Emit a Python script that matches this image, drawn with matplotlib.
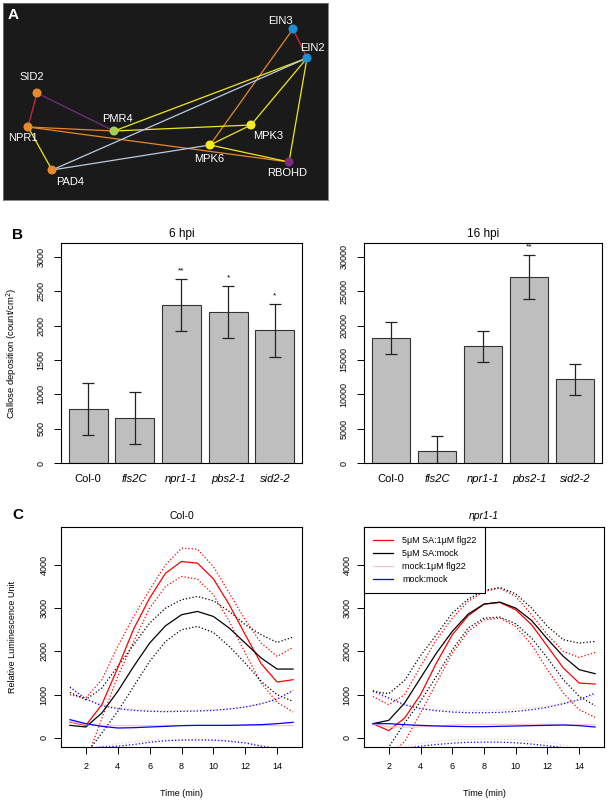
import numpy as np
import matplotlib
matplotlib.use('Agg')
from matplotlib import pyplot as plt

plt.rcParams.update({'font.family': ['Liberation Sans', 'DejaVu Sans'],
                     'font.size': 7, 'axes.linewidth': 0.8})

## Panel A: interaction network (layout in pixel units of the panel)
nodes = ['EIN3', 'EIN2', 'SID2', 'NPR1', 'PMR4', 'MPK3', 'MPK6', 'RBOHD', 'PAD4']
node_x = [293, 307, 37, 28, 114, 251, 210, 289, 52]
node_y = [29, 58, 93, 127, 131, 125, 145, 162, 170]
node_col = ['#1f8fd6', '#1f8fd6', '#e8892c', '#e8892c', '#a3cf62',
            '#f5eb17', '#f5eb17', '#7d2c80', '#e8892c']
lab_dx = [-13, 5, -5, -5, 3, 17, -1, -2, 18]
lab_dy = [-8, -10, -16, 11, -12, 11, 14, 11, 12]
edges = [('EIN3', 'EIN2', '#d8283c'), ('EIN3', 'MPK6', '#e8872b'),
         ('SID2', 'NPR1', '#d8283c'), ('SID2', 'PMR4', '#7b2d7e'),
         ('NPR1', 'PMR4', '#e8872b'), ('NPR1', 'RBOHD', '#e8872b'),
         ('NPR1', 'PAD4', '#f0e81a'), ('PMR4', 'EIN2', '#f0e81a'),
         ('PMR4', 'MPK3', '#f0e81a'), ('PAD4', 'EIN2', '#b8cde0'),
         ('PAD4', 'MPK6', '#b8cde0'), ('MPK6', 'MPK3', '#f0e81a'),
         ('MPK6', 'RBOHD', '#f0e81a'), ('MPK3', 'EIN2', '#f0e81a'),
         ('EIN2', 'RBOHD', '#f0e81a')]

## Panel B: callose deposition
genotypes = ['Col-0', 'fls2C', 'npr1-1', 'pbs2-1', 'sid2-2']
callose_6 = [790, 660, 2305, 2200, 1930]
err_6 = [380, 380, 378, 380, 382]
stars_6 = ['', '', '**', '*', '*']
callose_16 = [18150, 1750, 16960, 27050, 12150]
err_16 = [2320, 2200, 2250, 3170, 2225]
stars_16 = ['', '', '', '**', '']

## Panel C: ROS luminescence
time = np.arange(1, 16)
col_red = [369, 292, 769, 1620, 2520, 3230, 3807, 4077, 4038, 3677, 3077, 2385, 1715, 1292, 1346]
col_red_up = [1000, 923, 1346, 2115, 2807, 3422, 4000, 4384, 4361, 3961, 3346, 2730, 2192, 1884, 2092]
col_red_lo = [-400, -540, 450, 1423, 2230, 3000, 3500, 3730, 3669, 3307, 2692, 1961, 1269, 823, 600]
col_blk = [292, 254, 577, 1077, 1654, 2192, 2592, 2846, 2923, 2807, 2538, 2192, 1846, 1592, 1592]
col_blk_up = [1054, 885, 1154, 1654, 2154, 2654, 3000, 3192, 3269, 3169, 2923, 2615, 2384, 2207, 2330]
col_blk_lo = [-470, -380, 115, 615, 1192, 1769, 2230, 2500, 2577, 2438, 2115, 1730, 1307, 1000, 846]
col_pnk = [380, 310, 290, 285, 285, 285, 290, 290, 290, 290, 290, 290, 290, 285, 290]
col_pnk_up = [1150, 910, 770, 700, 660, 640, 630, 635, 640, 655, 680, 720, 790, 890, 1080]
col_pnk_lo = [-380, -290, -190, -130, -90, -60, -40, -30, -30, -40, -60, -100, -170, -260, -400]
col_blu = [423, 331, 269, 231, 238, 254, 269, 285, 292, 292, 292, 300, 308, 331, 361]
col_blu_up = [1177, 900, 746, 677, 638, 615, 608, 615, 623, 638, 669, 715, 792, 900, 1100]
col_blu_lo = [-330, -240, -210, -190, -150, -100, -65, -50, -45, -50, -75, -115, -190, -240, -380]

npr_red = [331, 169, 461, 1000, 1730, 2384, 2823, 3092, 3130, 2961, 2615, 2115, 1615, 1269, 1246]
npr_red_up = [961, 769, 1000, 1654, 2269, 2769, 3154, 3384, 3461, 3269, 2846, 2384, 2000, 1861, 1977]
npr_red_lo = [-300, -430, -80, 577, 1269, 1961, 2461, 2730, 2769, 2577, 2154, 1577, 1038, 654, 477]
npr_blk = [331, 408, 808, 1385, 1961, 2461, 2861, 3092, 3138, 3000, 2715, 2284, 1884, 1577, 1485]
npr_blk_up = [1077, 1023, 1330, 1900, 2384, 2884, 3207, 3407, 3477, 3330, 3000, 2577, 2269, 2192, 2230]
npr_blk_lo = [-420, -210, 346, 846, 1423, 2038, 2538, 2769, 2792, 2638, 2307, 1846, 1346, 961, 746]
npr_pnk = [331, 254, 250, 260, 280, 300, 310, 315, 315, 315, 315, 315, 310, 310, 308]
npr_pnk_up = [1050, 880, 760, 690, 660, 640, 635, 640, 650, 670, 700, 740, 800, 880, 1000]
npr_pnk_lo = [-380, -300, -200, -120, -80, -50, -35, -30, -30, -40, -60, -100, -160, -250, -380]
npr_blu = [331, 331, 308, 292, 277, 269, 262, 262, 269, 277, 285, 292, 300, 285, 254]
npr_blu_up = [1092, 923, 769, 677, 630, 600, 585, 585, 592, 615, 654, 708, 792, 885, 1038]
npr_blu_lo = [-450, -330, -240, -190, -150, -120, -100, -95, -95, -110, -140, -180, -220, -300, -450]

treatments = ['5\u03bcM SA:1\u03bcM flg22', '5\u03bcM SA:mock', 'mock:1\u03bcM flg22', 'mock:mock']
treat_col = ['#ff0000', '#000000', '#ffc0cb', '#0000ff']

W, H = 608, 800
fig = plt.figure(figsize=(W / 100, H / 100), dpi=100)

def box(x0, y0, x1, y1):
    # pixel box (top-left origin) -> figure fraction rect
    return [x0 / W, 1 - y1 / H, (x1 - x0) / W, (y1 - y0) / H]

## ---- A
axA = fig.add_axes(box(3, 3, 328, 200))
axA.set_facecolor('#1a1a1a')
axA.set_xlim(3, 328)
axA.set_ylim(200, 3)
axA.set_xticks([])
axA.set_yticks([])
for s in axA.spines.values():
    s.set_color('#777777')
    s.set_linewidth(0.6)
pos = {n: (x, y) for n, x, y in zip(nodes, node_x, node_y)}
for a, b, c in edges:
    axA.plot([pos[a][0], pos[b][0]], [pos[a][1], pos[b][1]], color=c, lw=0.9, zorder=1)
axA.scatter(node_x, node_y, s=42, c=node_col, zorder=2, linewidths=0)
for n, x, y, dx, dy in zip(nodes, node_x, node_y, lab_dx, lab_dy):
    axA.text(x + dx, y + dy, n, color='white', fontsize=8, ha='center', va='center', zorder=3)
axA.text(8, 15, 'A', color='white', fontsize=11, fontweight='bold', va='center')

## ---- B
def callose(ax, vals, errs, stars, ylim, yticks, title, ylabel=None):
    xs = 0.7 + 1.2 * np.arange(len(vals))
    ax.bar(xs, vals, width=1.0, color='#bebebe', edgecolor='#333333', linewidth=0.8)
    ax.errorbar(xs, vals, yerr=errs, fmt='none', ecolor='#222222', elinewidth=0.9,
                capsize=4.5, capthick=0.9)
    for x, v, e, s in zip(xs, vals, errs, stars):
        if s:
            ax.text(x, v + e + ylim[1] * 0.02, s, ha='center', va='bottom', fontsize=6)
    ax.set_xlim(0, 6.2)
    ax.set_ylim(*ylim)
    ax.set_yticks(yticks)
    ax.set_yticklabels([str(t) for t in yticks], rotation=90, va='center', fontsize=6.5)
    ax.set_xticks(xs)
    ax.set_xticklabels(genotypes, fontsize=8)
    for i, t in enumerate(ax.get_xticklabels()):
        if i > 0:
            t.set_style('italic')
    ax.tick_params(axis='x', length=0, pad=8)
    ax.tick_params(axis='y', length=5, width=0.7, pad=6)
    ax.set_title(title, fontsize=8.5, pad=4)
    if ylabel:
        ax.set_ylabel(ylabel, fontsize=6.8)
        ax.yaxis.set_label_coords(-0.174, 0.5)

axB1 = fig.add_axes(box(61, 243, 302, 463))
callose(axB1, callose_6, err_6, stars_6, (0, 3200), list(range(0, 3001, 500)), '6 hpi',
        'Callose deposition (count/cm$^2$)')
axB2 = fig.add_axes(box(364, 243, 602, 463))
callose(axB2, callose_16, err_16, stars_16, (0, 32000), list(range(0, 30001, 5000)), '16 hpi')
fig.text(12 / W, 1 - 235 / H, 'B', fontsize=11, fontweight='bold', va='center')

## ---- C
def ros(ax, series, title, italic=False, ylabel=False, legend=False):
    for (m, up, lo), c in zip(series, treat_col):
        ax.plot(time, up, ':', color=c, lw=0.9)
        ax.plot(time, lo, ':', color=c, lw=0.9)
    for (m, up, lo), c, lab in zip(series, treat_col, treatments):
        ax.plot(time, m, '-', color=c, lw=0.9, label=lab)
    ax.set_xlim(0.44, 15.56)
    ax.set_ylim(-208, 4873)
    ax.set_xticks(range(2, 15, 2))
    ax.set_yticks(range(0, 4001, 1000))
    ax.set_yticklabels([str(t) for t in range(0, 4001, 1000)], rotation=90, va='center',
                       fontsize=6.5)
    ax.tick_params(axis='x', labelsize=6.5, length=5, width=0.7, pad=6)
    ax.tick_params(axis='y', length=5, width=0.7, pad=4)
    ax.set_title(title, fontsize=7.5, pad=6, style='italic' if italic else 'normal')
    ax.set_xlabel('Time (min)', fontsize=6.5)
    ax.xaxis.set_label_coords(0.5, -0.19)
    if ylabel:
        ax.set_ylabel('Relative Luminescence Unit', fontsize=6.5)
        ax.yaxis.set_label_coords(-0.183, 0.5)
    if legend:
        lg = ax.legend(loc='upper left', borderaxespad=0, fancybox=False, edgecolor='black',
                       framealpha=1, fontsize=6.5, handlelength=2.2, borderpad=1.0,
                       labelspacing=0.45, handletextpad=1.0)
        lg.get_frame().set_linewidth(0.8)

axC1 = fig.add_axes(box(61, 527, 302, 747))
ros(axC1, [(col_red, col_red_up, col_red_lo), (col_blk, col_blk_up, col_blk_lo),
           (col_pnk, col_pnk_up, col_pnk_lo), (col_blu, col_blu_up, col_blu_lo)],
    'Col-0', ylabel=True)
axC2 = fig.add_axes(box(364, 527, 604, 747))
ros(axC2, [(npr_red, npr_red_up, npr_red_lo), (npr_blk, npr_blk_up, npr_blk_lo),
           (npr_pnk, npr_pnk_up, npr_pnk_lo), (npr_blu, npr_blu_up, npr_blu_lo)],
    'npr1-1', italic=True, legend=True)
fig.text(12 / W, 1 - 515 / H, 'C', fontsize=11, fontweight='bold', va='center')

fig.savefig('out.png', dpi=100)
